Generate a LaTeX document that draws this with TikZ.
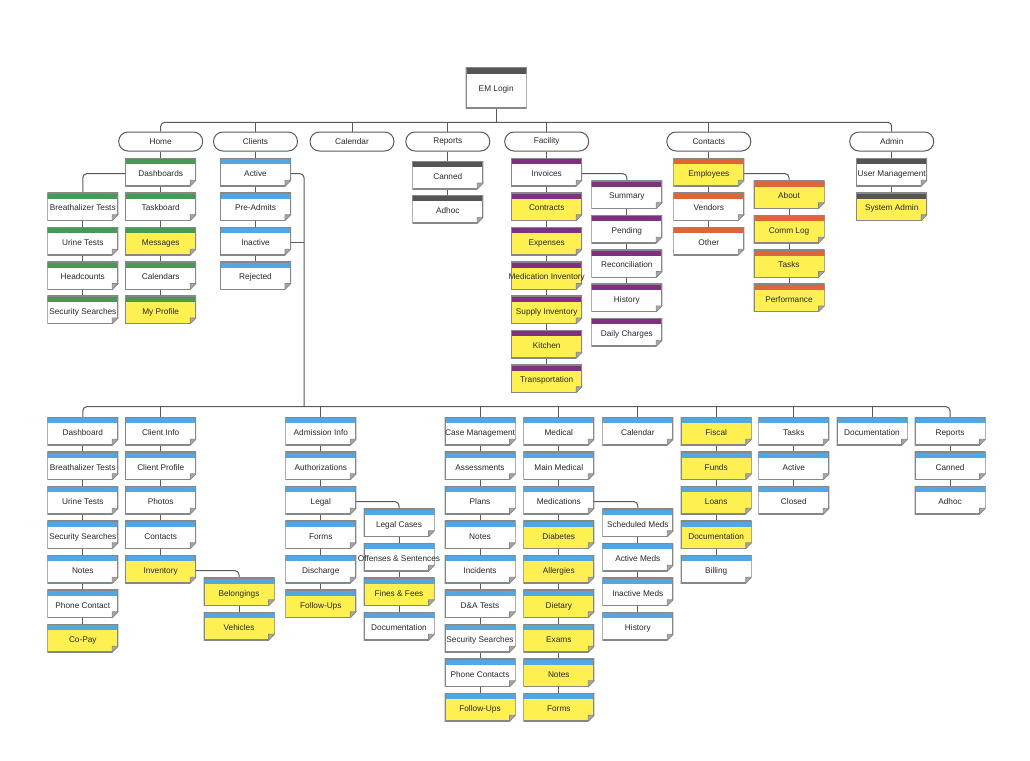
\documentclass[tikz,border=0pt]{standalone}
\usepackage{fontspec}
\newfontfamily\cardfont{Liberation Sans}
\usetikzlibrary{positioning,backgrounds}

\definecolor{homegreen}{RGB}{72,152,86}
\definecolor{clientblue}{RGB}{82,166,226}
\definecolor{facilitypurple}{RGB}{128,48,128}
\definecolor{contactorange}{RGB}{224,100,58}
\definecolor{admingrey}{RGB}{85,85,85}
\definecolor{noteyellow}{RGB}{255,240,82}
\definecolor{edgegrey}{RGB}{135,135,135}
\definecolor{foldgrey}{RGB}{165,165,165}
\definecolor{linegrey}{RGB}{90,90,90}
\definecolor{textgrey}{RGB}{40,40,40}

\newcommand{\cardbar}{clientblue}
\newcommand{\ppbb}{path picture bounding box}
\newcommand{\cardsize}{\cardfont\fontsize{6.2pt}{7.4pt}\selectfont}

\begin{document}
\begin{tikzpicture}[x=0.75pt, y=-0.75pt,
        barcolor/.code={\renewcommand{\cardbar}{#1}},
        card/.style={rectangle, fill=white, minimum width=53.25pt, minimum height=21pt, inner sep=0pt,
            text height=6.3pt, text depth=0pt, font=\cardsize, text=textgrey,
            path picture={
                \fill[fill=\cardbar] (\ppbb.north west) rectangle ([yshift=-4.5pt]\ppbb.north east);
                \fill[white] ([yshift=4.5pt]\ppbb.south east) -- (\ppbb.south east) -- ([xshift=-4.5pt]\ppbb.south east) -- cycle;
                \filldraw[fill=foldgrey, draw=edgegrey, line width=0.5pt] ([yshift=4.5pt]\ppbb.south east) -- ([shift={(-4.5pt,4.5pt)}]\ppbb.south east) -- ([xshift=-4.5pt]\ppbb.south east) -- cycle;
                \draw[edgegrey, line width=1.5pt] ([yshift=4.5pt]\ppbb.south east) -- (\ppbb.north east) -- (\ppbb.north west) -- (\ppbb.south west) -- ([xshift=-4.5pt]\ppbb.south east);
            }},
        loginbox/.style={rectangle, fill=white, minimum width=45.75pt, minimum height=30.75pt, inner sep=0pt,
            text height=5.85pt, text depth=0pt, font=\cardsize, text=textgrey,
            path picture={
                \fill[admingrey] (\ppbb.north west) rectangle ([yshift=-5.25pt]\ppbb.north east);
                \draw[edgegrey, line width=1.5pt] (\ppbb.north west) rectangle (\ppbb.south east);
            }},
        menu/.style={rectangle, rounded corners=7pt, draw=linegrey, line width=0.75pt, fill=white,
            minimum width=63pt, minimum height=14.25pt, inner sep=0pt, font=\cardsize, text=textgrey},
        conn/.style={draw=linegrey, line width=0.75pt},
        elbow/.style={conn, rounded corners=3pt}
    ]
    \useasboundingbox (0,0) rectangle (1030,760);

    % Login and top menu
    \node[loginbox] (login) at (496.2, 87.8) {EM Login};
    \coordinate (topbus) at (496.2, 122.3);

    \node[menu] (home) at (160.7, 141.5) {Home};
    \node[menu] (clients) at (255.5, 141.5) {Clients};
    \node[menu] (calendar) at (352, 141.5) {Calendar};
    \node[menu] (reports) at (447.8, 141.5) {Reports};
    \node[menu] (facility) at (546.7, 141.5) {Facility};
    \node[menu] (contacts) at (708.8, 141.5) {Contacts};
    \node[menu] (admin) at (891.7, 141.5) {Admin};

    % === Top menu pages ===
    \foreach \txt/\fl [count=\i] in {Dashboards/white, Taskboard/white, Messages/noteyellow, Calendars/white, My Profile/noteyellow}
        \node[card, barcolor=homegreen, fill=\fl] (h\i) at (160.7, {172.3+34.4*(\i-1)}) {\makebox[0pt]{\txt}};
    \foreach \txt/\fl [count=\i] in {Breathalizer Tests/white, Urine Tests/white, Headcounts/white, Security Searches/white}
        \node[card, barcolor=homegreen, fill=\fl] (hs\i) at (82.8, {206.7+34.4*(\i-1)}) {\makebox[0pt]{\txt}};
    \foreach \txt/\fl [count=\i] in {Active/white, Pre-Admits/white, Inactive/white, Rejected/white}
        \node[card, barcolor=clientblue, fill=\fl] (c\i) at (255.5, {172.3+34.4*(\i-1)}) {\makebox[0pt]{\txt}};
    \foreach \txt/\fl [count=\i] in {Canned/white, Adhoc/white}
        \node[card, barcolor=admingrey, fill=\fl] (r\i) at (447.8, {175+34.4*(\i-1)}) {\makebox[0pt]{\txt}};
    \foreach \txt/\fl [count=\i] in {Invoices/white, Contracts/noteyellow, Expenses/noteyellow, Medication Inventory/noteyellow, Supply Inventory/noteyellow, Kitchen/noteyellow, Transportation/noteyellow}
        \node[card, barcolor=facilitypurple, fill=\fl] (f\i) at (546.7, {172.3+34.4*(\i-1)}) {\makebox[0pt]{\txt}};
    \foreach \txt/\fl [count=\i] in {Summary/white, Pending/white, Reconciliation/white, History/white, Daily Charges/white}
        \node[card, barcolor=facilitypurple, fill=\fl] (fs\i) at (626.8, {194.7+34.4*(\i-1)}) {\makebox[0pt]{\txt}};
    \foreach \txt/\fl [count=\i] in {Employees/noteyellow, Vendors/white, Other/white}
        \node[card, barcolor=contactorange, fill=\fl] (k\i) at (708.8, {172.3+34.4*(\i-1)}) {\makebox[0pt]{\txt}};
    \foreach \txt/\fl [count=\i] in {About/noteyellow, Comm Log/noteyellow, Tasks/noteyellow, Performance/noteyellow}
        \node[card, barcolor=contactorange, fill=\fl] (ks\i) at (789, {194.7+34.4*(\i-1)}) {\makebox[0pt]{\txt}};
    \foreach \txt/\fl [count=\i] in {User Management/white, System Admin/noteyellow}
        \node[card, barcolor=admingrey, fill=\fl] (a\i) at (891.7, {172.3+34.4*(\i-1)}) {\makebox[0pt]{\txt}};

    % === Client record pages ===
    \coordinate (botbus) at (304, 406.7);
    \foreach \txt/\fl [count=\i] in {Dashboard/white, Breathalizer Tests/white, Urine Tests/white, Security Searches/white, Notes/white, Phone Contact/white, Co-Pay/noteyellow}
        \node[card, fill=\fl] (d\i) at (82.8, {431.3+34.5*(\i-1)}) {\makebox[0pt]{\txt}};
    \foreach \txt/\fl [count=\i] in {Client Info/white, Client Profile/white, Photos/white, Contacts/white, Inventory/noteyellow}
        \node[card, fill=\fl] (ci\i) at (160.7, {431.3+34.5*(\i-1)}) {\makebox[0pt]{\txt}};
    \foreach \txt/\fl [count=\i] in {Belongings/noteyellow, Vehicles/noteyellow}
        \node[card, fill=\fl] (iv\i) at (239, {591.8+34.5*(\i-1)}) {\makebox[0pt]{\txt}};
    \foreach \txt/\fl [count=\i] in {Admission Info/white, Authorizations/white, Legal/white, Forms/white, Discharge/white, Follow-Ups/noteyellow}
        \node[card, fill=\fl] (ad\i) at (320.8, {431.3+34.5*(\i-1)}) {\makebox[0pt]{\txt}};
    \foreach \txt/\fl [count=\i] in {Legal Cases/white, Offenses \& Sentences/white, Fines \& Fees/noteyellow, Documentation/white}
        \node[card, fill=\fl] (lg\i) at (399, {522.8+34.5*(\i-1)}) {\makebox[0pt]{\txt}};
    \foreach \txt/\fl [count=\i] in {Case Management/white, Assessments/white, Plans/white, Notes/white, Incidents/white, D\&A Tests/white, Security Searches/white, Phone Contacts/white, Follow-Ups/noteyellow}
        \node[card, fill=\fl] (cm\i) at (480, {431.3+34.5*(\i-1)}) {\makebox[0pt]{\txt}};
    \foreach \txt/\fl [count=\i] in {Medical/white, Main Medical/white, Medications/white, Diabetes/noteyellow, Allergies/noteyellow, Dietary/noteyellow, Exams/noteyellow, Notes/noteyellow, Forms/noteyellow}
        \node[card, fill=\fl] (md\i) at (558.8, {431.3+34.5*(\i-1)}) {\makebox[0pt]{\txt}};
    \foreach \txt/\fl [count=\i] in {Scheduled Meds/white, Active Meds/white, Inactive Meds/white, History/white}
        \node[card, fill=\fl] (ms\i) at (637.8, {522.8+34.5*(\i-1)}) {\makebox[0pt]{\txt}};
    \node[card] (cal1) at (637.8, 431.3) {Calendar};
    \foreach \txt/\fl [count=\i] in {Fiscal/noteyellow, Funds/noteyellow, Loans/noteyellow, Documentation/noteyellow, Billing/white}
        \node[card, fill=\fl] (fi\i) at (716.2, {431.3+34.5*(\i-1)}) {\makebox[0pt]{\txt}};
    \foreach \txt/\fl [count=\i] in {Tasks/white, Active/white, Closed/white}
        \node[card, fill=\fl] (tk\i) at (793.8, {431.3+34.5*(\i-1)}) {\makebox[0pt]{\txt}};
    \node[card] (doc1) at (872, 431.3) {Documentation};
    \foreach \txt/\fl [count=\i] in {Reports/white, Canned/white, Adhoc/white}
        \node[card, fill=\fl] (rp\i) at (950, {431.3+34.5*(\i-1)}) {\makebox[0pt]{\txt}};

    % === Connectors (behind the cards) ===
    \begin{scope}[on background layer]
        \draw[conn] (login) -- (topbus);
        \draw[elbow] (home) |- (topbus) -| (admin);
        \foreach \p in {clients, calendar, reports, facility, contacts}
            \draw[conn] (\p) -- (\p |- topbus);
        \draw[conn] (home) -- (h1);
        \draw[conn] (clients) -- (c1);
        \draw[conn] (reports) -- (r1);
        \draw[conn] (facility) -- (f1);
        \draw[conn] (contacts) -- (k1);
        \draw[conn] (admin) -- (a1);

        % chains down each column
        \foreach \j [count=\i from 2] in {1,...,4} \draw[conn] (h\j) -- (h\i);
        \foreach \j [count=\i from 2] in {1,...,3} \draw[conn] (hs\j) -- (hs\i);
        \foreach \j [count=\i from 2] in {1,...,3} \draw[conn] (c\j) -- (c\i);
        \draw[conn] (r1) -- (r2);
        \foreach \j [count=\i from 2] in {1,...,6} \draw[conn] (f\j) -- (f\i);
        \foreach \j [count=\i from 2] in {1,...,3} \draw[conn] (fs\j) -- (fs\i);
        \foreach \j [count=\i from 2] in {1,...,2} \draw[conn] (k\j) -- (k\i);
        \foreach \j [count=\i from 2] in {1,...,3} \draw[conn] (ks\j) -- (ks\i);
        \draw[conn] (a1) -- (a2);
        \foreach \j [count=\i from 2] in {1,...,6} \draw[conn] (d\j) -- (d\i);
        \foreach \j [count=\i from 2] in {1,...,4} \draw[conn] (ci\j) -- (ci\i);
        \draw[conn] (iv1) -- (iv2);
        \foreach \j [count=\i from 2] in {1,...,5} \draw[conn] (ad\j) -- (ad\i);
        \foreach \j [count=\i from 2] in {1,...,3} \draw[conn] (lg\j) -- (lg\i);
        \foreach \j [count=\i from 2] in {1,...,8} \draw[conn] (cm\j) -- (cm\i);
        \foreach \j [count=\i from 2] in {1,...,8} \draw[conn] (md\j) -- (md\i);
        \foreach \j [count=\i from 2] in {1,...,3} \draw[conn] (ms\j) -- (ms\i);
        \foreach \j [count=\i from 2] in {1,...,4} \draw[conn] (fi\j) -- (fi\i);
        \foreach \j [count=\i from 2] in {1,...,2} \draw[conn] (tk\j) -- (tk\i);
        \foreach \j [count=\i from 2] in {1,...,2} \draw[conn] (rp\j) -- (rp\i);

        % side branches
        \draw[elbow] (h1.mid) -| (hs1);
        \draw[elbow] (f1.mid) -| (fs1);
        \draw[elbow] (k1.mid) -| (ks1);
        \draw[elbow] (ci5.mid) -| (iv1);
        \draw[elbow] (ad3.mid) -| (lg1);
        \draw[elbow] (md3.mid) -| (ms1);

        % clients down to the record pages
        \draw[elbow] (c1.mid) -| (botbus);
        \draw[conn] (c3.mid) -- (c3.mid -| botbus);
        \draw[elbow] (d1) |- (botbus) -| (rp1);
        \foreach \p in {ci1, ad1, cm1, md1, cal1, fi1, tk1, doc1}
            \draw[conn] (\p) -- (\p |- botbus);
    \end{scope}
\end{tikzpicture}
\end{document}
